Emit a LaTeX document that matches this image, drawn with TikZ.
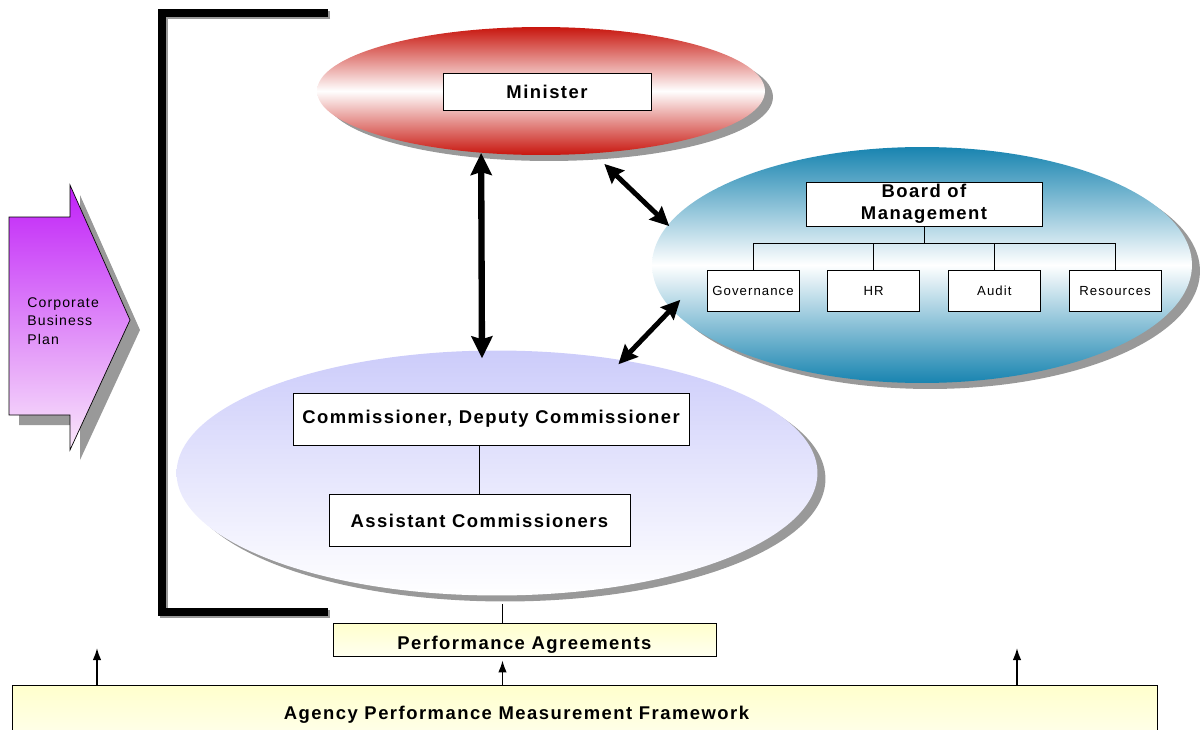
\documentclass[tikz,border=0pt]{standalone}
\usepackage{fontspec}
\setsansfont{Liberation Sans}[LetterSpace=8]
\usepackage{xcolor}
\usepackage{tikz}
\usetikzlibrary{arrows.meta, positioning, calc, shapes.geometric, shadows}

\definecolor{minred}{RGB}{200,22,14}
\definecolor{bmblue}{RGB}{24,132,176}
\definecolor{lavender}{RGB}{204,204,250}
\definecolor{cbppurple}{RGB}{192,32,248}
\definecolor{cbppink}{RGB}{250,232,250}
\definecolor{paleyellow}{RGB}{255,255,204}

\begin{document}
\begin{tikzpicture}[
    x=0.02cm, y=-0.02cm,
    blob/.style={ellipse, inner sep=0pt,
                 drop shadow={shadow xshift=0.16cm, shadow yshift=-0.12cm,
                              fill=black!40, opacity=1}},
    post/.style={draw, fill=white, font=\sffamily\bfseries\fontsize{10.5}{12.5}\selectfont,
                 minimum height=1.04cm, inner sep=1pt},
    unit/.style={draw, fill=white, font=\sffamily\fontsize{7.5}{9}\selectfont,
                 minimum width=1.84cm, minimum height=0.82cm, inner sep=1pt},
    plate/.style={draw, top color=paleyellow, bottom color=paleyellow!30!white,
                  font=\sffamily\bfseries\fontsize{10.5}{12.5}\selectfont},
    dbl/.style={{Stealth[length=3.8mm,width=3.6mm,inset=0.5mm]}-{Stealth[length=3.8mm,width=3.6mm,inset=0.5mm]},
                line width=2.8pt},
    bigdbl/.style={{Stealth[length=4.4mm,width=4.2mm,inset=0.6mm]}-{Stealth[length=4.4mm,width=4.2mm,inset=0.6mm]},
                line width=3.6pt},
    up/.style={-{Latex[length=2.4mm,width=1.7mm]}, line width=0.9pt},
    bracket/.style={line width=4pt},
    node distance=0.56cm
]
\useasboundingbox (0,0) rectangle (1204,730);

% plan arrow on the left
\fill[black!40] (19,227) -- (80,227) -- (80,195) -- (140,330) -- (80,460) -- (80,425) -- (19,425) -- cycle;
\draw[top color=cbppurple, bottom color=cbppink]
  (9,217) -- (70,217) -- (70,185) -- (130,320) -- (70,450) -- (70,415) -- (9,415) -- cycle;
\node[font=\sffamily\fontsize{8}{10.5}\selectfont, align=left, anchor=west, inner sep=0pt]
  (cbp) at (27,321) {Corporate\\Business\\Plan};

% bracket
\draw[bracket, black!40] (330,15) -- (164,15) -- (164,614) -- (330,614);
\draw[bracket] (328,13) -- (162,13) -- (162,612) -- (328,612);

% the three groups
\node[blob, top color=minred, bottom color=minred, middle color=white,
      minimum width=8.96cm, minimum height=2.56cm] (minister) at (541,91) {};
\node[blob, top color=bmblue, bottom color=bmblue, middle color=white,
      minimum width=10.8cm, minimum height=4.72cm] (board) at (922,265) {};
\node[blob, top color=lavender, bottom color=white,
      minimum width=12.82cm, minimum height=4.9cm] (comm) at (497,473) {};

\node[post, minimum width=4.16cm, minimum height=0.74cm] (minbox) at (547,91.5) {Minister};

\node[post, minimum width=4.72cm, minimum height=0.88cm, align=center] (bom) at (924,204) {Board of\\Management};
\node[unit] (gov) at (753,291) {Governance};
\node[unit, right=of gov] (hr) {HR};
\node[unit, right=of hr] (audit) {Audit};
\node[unit, right=of audit] (res) {Resources};
\coordinate[below=0.34cm of bom] (bus);
\draw (bom) -- (bus);
\draw (gov.north |- bus) -- (res.north |- bus);
\foreach \u in {gov,hr,audit,res}
  \draw (\u.north |- bus) -- (\u.north);

\node[post, minimum width=7.92cm] (cds) at (491,419) {Commissioner, Deputy Commissioner};
\node[post, minimum width=6.02cm, below=0.98cm of cds, xshift=-0.23cm] (asst) {Assistant Commissioners};
\draw (asst.north) -- (asst.north |- cds.south);

% framework at the bottom
\node[plate, minimum width=7.66cm, minimum height=0.66cm, inner ysep=0.5pt,
      text height=0.48cm, text depth=0.08cm] (perf) at (524.5,639.5) {Performance Agreements};
\node[plate, minimum width=22.9cm, minimum height=1.2cm] (apmf) at (584.5,715) {\hspace*{-2.72cm}Agency Performance Measurement Framework};

\coordinate (drop) at ([xshift=0.11cm]comm.south);
\coordinate (lefttip) at (97,648);
\coordinate (righttip) at (1017,648);
\draw[shorten <=0.16cm] (drop) -- (drop |- perf.north);
\draw[up, shorten >=0.08cm] (apmf.north -| drop) -- (perf.south -| drop);
\draw[up] (apmf.north -| lefttip) -- (lefttip);
\draw[up] (apmf.north -| righttip) -- (righttip);

% links between groups
\draw[bigdbl, shorten >=-0.16cm] (minister.226) -- (comm.97);
\draw[dbl, shorten <=0.3cm, shorten >=-0.04cm] (minister.310) -- (board.171);
\draw[dbl, shorten <=-0.12cm, shorten >=-0.26cm] (comm.42) -- (board.190);
\end{tikzpicture}
\end{document}
